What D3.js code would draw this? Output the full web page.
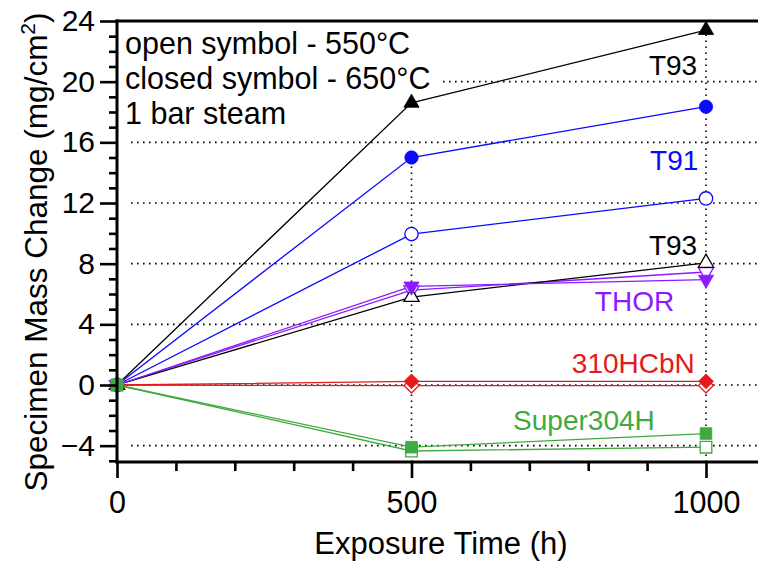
<!DOCTYPE html>
<html>
<head>
<meta charset="utf-8">
<script src="https://cdn.jsdelivr.net/npm/d3@7"></script>
<style>
  html, body { margin: 0; padding: 0; background: #fff; }
  svg { display: block; font-family: "Liberation Sans", Arial, Helvetica, sans-serif; }
</style>
</head>
<body>
<svg id="chart" width="758" height="563"></svg>
<script>
// ---- data ----
const times = [0, 500, 1000];
const t93_650 = [0, 18.6, 23.4];
const t93_550 = [0, 5.8, 8.05];
const t91_650 = [0, 15.0, 18.35];
const t91_550 = [0, 9.95, 12.3];
const thor_650 = [0, 6.5, 6.95];
const thor_550 = [0, 6.25, 7.45];
const hcbn_650 = [0, 0.24, 0.24];
const hcbn_550 = [0, -0.04, -0.04];
const s304_650 = [0, -4.1, -3.2];
const s304_550 = [0, -4.35, -4.1];

const yMajorTicks = [-4, 0, 4, 8, 12, 16, 20, 24];
const xMajorTicks = [0, 500, 1000];
const gridY = [-4, 0, 4, 8, 12, 16, 20];
const noteLines = ["open symbol - 550°C", "closed symbol - 650°C", "1 bar steam"];

const labels = [
  { text: "T93", color: "#000000", x: 985, y: 20.44 },
  { text: "T91", color: "#0a0aff", x: 987, y: 14.18 },
  { text: "T93", color: "#000000", x: 985, y: 8.57 },
  { text: "THOR", color: "#8c1aff", x: 946, y: 4.88 },
  { text: "310HCbN", color: "#e41a1c", x: 981, y: 0.79 },
  { text: "Super304H", color: "#3faa3f", x: 913, y: -2.97 }
];

const colors = { t93: "#000000", t91: "#0a0aff", thor: "#8c1aff", hcbn: "#e41a1c", s304: "#3faa3f" };

// draw order: lines, then markers in this order
const series = [
  { v: t93_650, c: colors.t93, sym: "tri", filled: true },
  { v: t91_650, c: colors.t91, sym: "circle", filled: true },
  { v: t91_550, c: colors.t91, sym: "circle", filled: false },
  { v: thor_550, c: colors.thor, sym: "tridown", filled: false },
  { v: t93_550, c: colors.t93, sym: "tri", filled: false },
  { v: thor_650, c: colors.thor, sym: "tridown", filled: true },
  { v: hcbn_550, c: colors.hcbn, sym: "diamond", filled: false },
  { v: hcbn_650, c: colors.hcbn, sym: "diamond", filled: true },
  { v: s304_550, c: colors.s304, sym: "square", filled: false },
  { v: s304_650, c: colors.s304, sym: "square", filled: true }
];

// ---- layout ----
const svg = d3.select("#chart");
const W = 758, H = 563;
const x = d3.scaleLinear().domain([0, 1000]).range([117, 706]);
const y = d3.scaleLinear().domain([0, 24]).range([385, 21]);
const xMax = x.invert(W);
const yMin = -5.08;
const pL = x(0), pR = W, pT = y(24), pB = y(yMin);

// grid
const grid = svg.append("g").attr("stroke", "#000").attr("stroke-width", 1.6)
  .attr("stroke-dasharray", "1.6,4.4").attr("fill", "none");
grid.selectAll("line.h").data(gridY).join("line")
  .attr("x1", pL + 14).attr("x2", pR)
  .attr("y1", d => y(d)).attr("y2", d => y(d));
grid.append("line").attr("x1", x(1000)).attr("x2", x(1000)).attr("y1", pB).attr("y2", pT + 4);
grid.append("line").attr("x1", x(500)).attr("x2", x(500)).attr("y1", pB).attr("y2", y(15.2));

// annotation box (hides grid behind text)
svg.append("rect").attr("x", pL + 2).attr("y", pT + 2).attr("width", 324).attr("height", 80).attr("fill", "#fff");
svg.append("g").selectAll("text").data(noteLines).join("text")
  .attr("x", pL + 8).attr("y", (d, i) => 54 + i * 35)
  .attr("font-size", 30.5).attr("fill", "#000").text(d => d);

// lines
const line = d3.line().x((d, i) => x(times[i])).y(d => y(d));
svg.append("g").selectAll("path").data(series).join("path")
  .attr("d", d => line(d.v)).attr("fill", "none")
  .attr("stroke", d => d.c).attr("stroke-width", 1.3);

// markers
function symPath(s) {
  if (s === "tri" || s === "tridown") return d3.symbol(d3.symbolTriangle, 100)();
  if (s === "circle") return d3.symbol(d3.symbolCircle, 140)();
  if (s === "square") return d3.symbol(d3.symbolSquare, 135)();
  return d3.symbol(d3.symbolSquare, 110)();
}
function symRot(s) {
  if (s === "tridown") return 180;
  if (s === "diamond") return 45;
  return 0;
}
series.forEach(s => {
  svg.append("g").selectAll("path").data(s.v).join("path")
    .attr("d", symPath(s.sym))
    .attr("transform", (d, i) => `translate(${x(times[i])},${y(d)}) rotate(${symRot(s.sym)})`)
    .attr("fill", s.filled ? s.c : "#fff")
    .attr("stroke", s.c).attr("stroke-width", s.filled ? 0.8 : 1.3);
});

// series labels
svg.append("g").selectAll("text").data(labels).join("text")
  .attr("x", d => x(d.x)).attr("y", d => y(d.y))
  .attr("text-anchor", "end").attr("font-size", 28)
  .attr("fill", d => d.color).text(d => d.text);

// axes
const fmt = d => d < 0 ? "\u2212" + Math.abs(d) : String(d);
const yMajor = d3.axisLeft(y).tickValues(yMajorTicks).tickSize(17).tickPadding(5).tickFormat(fmt);
const yMinor = d3.axisLeft(y).tickValues(d3.range(-5, 25, 1).filter(v => v % 4 !== 0)).tickSize(8).tickFormat("");
const xMajor = d3.axisBottom(x).tickValues(xMajorTicks).tickSize(16).tickPadding(13).tickFormat(d3.format("d"));
const xMinor = d3.axisBottom(x).tickValues(d3.range(100, xMax, 100).filter(v => v % 500 !== 0)).tickSize(9).tickFormat("");

function styleAxis(g, fs) {
  g.select(".domain").remove();
  g.selectAll(".tick line").attr("stroke", "#000").attr("stroke-width", 2.6);
  g.selectAll(".tick text").attr("fill", "#000").attr("font-size", fs)
    .attr("font-family", "'Liberation Sans', Arial, Helvetica, sans-serif");
}
svg.append("g").attr("transform", `translate(${pL},0)`).call(yMinor).call(g => styleAxis(g, 30));
svg.append("g").attr("transform", `translate(${pL},0)`).call(yMajor).call(g => styleAxis(g, 30));
svg.append("g").attr("transform", `translate(0,${pB})`).call(xMinor).call(g => styleAxis(g, 30));
svg.append("g").attr("transform", `translate(0,${pB})`).call(xMajor).call(g => styleAxis(g, 30.5));

// frame lines
const frame = svg.append("g").attr("stroke", "#000").attr("stroke-width", 3).attr("stroke-linecap", "square");
frame.append("line").attr("x1", pL).attr("x2", pR).attr("y1", pT).attr("y2", pT);
frame.append("line").attr("x1", pL).attr("x2", pR).attr("y1", pB).attr("y2", pB);
frame.append("line").attr("x1", pL).attr("x2", pL).attr("y1", pT).attr("y2", pB);

// axis titles
svg.append("text").attr("x", 441).attr("y", 554).attr("text-anchor", "middle")
  .attr("font-size", 31).attr("fill", "#000").text("Exposure Time (h)");
const yl = svg.append("text")
  .attr("transform", `translate(47,252) rotate(-90)`)
  .attr("text-anchor", "middle").attr("font-size", 31.5).attr("fill", "#000");
yl.append("tspan").text("Specimen Mass Change (mg/cm");
yl.append("tspan").attr("font-size", 21).attr("dy", -12).text("2");
yl.append("tspan").attr("dy", 12).text(")");
</script>
</body>
</html>
